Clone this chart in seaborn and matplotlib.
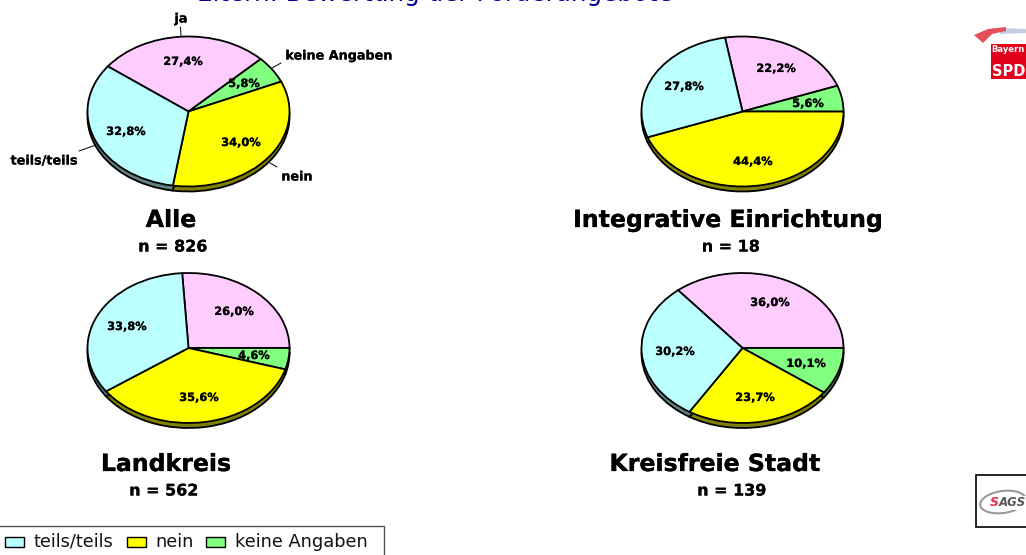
import matplotlib
matplotlib.use('Agg')
import matplotlib.pyplot as plt
import matplotlib.patheffects as pe
from matplotlib.patches import Rectangle, Polygon, Ellipse
import seaborn as sns

# Data
categories = ['ja', 'keine Angaben', 'nein', 'teils/teils']
alle = [27.4, 5.8, 34.0, 32.8]
integrativ = [22.2, 5.6, 44.4, 27.8]
landkreis = [26.0, 4.6, 35.6, 33.8]
kreisfrei = [36.0, 10.1, 23.7, 30.2]
group_names = ['Alle', 'Integrative Einrichtung', 'Landkreis', 'Kreisfreie Stadt']
group_n = [826, 18, 562, 139]
legend_items = ['teils/teils', 'nein', 'keine Angaben']

W, H = 1026, 555
sns.set_theme(style='white')
plt.rcParams['font.family'] = ['DejaVu Sans']

top_colors = sns.color_palette(['#FFCCFF', '#80FF80', '#FFFF00', '#BBFFFF'])
side_colors = sns.color_palette(['#806680', '#408040', '#808000', '#608080'])
legend_colors = {c: top_colors[i] for i, c in enumerate(categories)}

fig = plt.figure(figsize=(W / 100, H / 100), dpi=100, facecolor='white')

# one entry per pie: centre x, centre y, start angle
pie_setup = [(188.5, 111.5, 143), (742.5, 111.5, 100), (188.5, 348, 93.6), (742.5, 348, 129.6)]
pie_values = [alle, integrativ, landkreis, kreisfrei]
RX, RY, DEPTH = 101, 75, 5

for values, (cx, cy, start) in zip(pie_values, pie_setup):
    # axes is stretched to the ellipse, so the pie is drawn squashed
    ax = fig.add_axes([(cx - RX) / W, 1 - (cy + RY + DEPTH) / H, 2 * RX / W, (2 * RY + DEPTH) / H])
    lw = {'edgecolor': 'black', 'linewidth': 1.3}
    ax.pie(values, colors=side_colors, startangle=start, counterclock=False,
           center=(0, -DEPTH / RY), wedgeprops=lw)
    ax.pie(values, colors=top_colors, startangle=start, counterclock=False,
           center=(0, 0), wedgeprops=lw)
    ax.set_aspect('auto')
    ax.set_xlim(-1, 1)
    ax.set_ylim(-1 - DEPTH / RY, 1)
    for p in ax.patches:
        p.set_clip_on(False)

# overlay in image pixels for all the text
ov = fig.add_axes([0, 0, 1, 1], zorder=5)
ov.set_xlim(0, W)
ov.set_ylim(H, 0)
ov.axis('off')
ov.patch.set_alpha(0)


def label(x, y, s, size=8, color='black', stroke=0.12):
    t = ov.text(x, y, s, fontsize=size, fontweight='bold', color=color, ha='center', va='center')
    if stroke:
        # source is a blurry screenshot, text reads heavier there
        t.set_path_effects([pe.withStroke(linewidth=stroke, foreground=color)])


def pct(v):
    return f'{v:.1f}%'.replace('.', ',')


pct_pos = [
    [(183, 62), (244, 84), (241, 143), (126, 132)],
    [(776, 69), (808, 104), (753, 162), (684, 87)],
    [(234, 312), (254, 356), (199, 398), (127, 327)],
    [(770, 303), (806, 364), (755, 398), (675, 352)],
]
for values, positions in zip(pie_values, pct_pos):
    for v, (x, y) in zip(values, positions):
        label(x, y, pct(v), size=8.2)

title_pos = [(171, 220), (728, 220), (166, 464), (715, 464)]
n_pos = [(173, 247), (731, 247), (164, 491), (732, 491)]
for name, n, tp, np_ in zip(group_names, group_n, title_pos, n_pos):
    label(tp[0], tp[1], name, size=17, stroke=0.2)
    label(np_[0], np_[1], f'n = {n}', size=11.5)

# category labels and leader lines of the first pie
label(181, 19, 'ja', size=9.2)
label(339, 56, 'keine Angaben', size=9.2)
label(297, 177, 'nein', size=9.2)
label(44, 161, 'teils/teils', size=9.2)
for xs, ys in [((181, 180.5), (36, 27)), ((272, 281), (68, 63)),
               ((270, 277), (163, 167)), ((96, 79), (145, 151))]:
    ov.plot(xs, ys, color='black', lw=0.7)

# heading is cut off by the top edge of the image
ov.text(197, 0.5, 'Eltern: Bewertung der Förderangebote', fontsize=17.7, color='#000099',
        ha='left', va='baseline', clip_on=True)

# legend, runs off the bottom of the image
ov.plot([0, 384, 384], [526, 526, 556], color='#555555', lw=1, clip_on=True)
for name, xb, xt in zip(legend_items, (5, 127, 206), (33, 155, 235)):
    ov.add_patch(Rectangle((xb, 537), 19, 10, facecolor=legend_colors[name], edgecolor='black', lw=1))
    ov.text(xt, 542, name, fontsize=12.8, color='#111111', ha='left', va='center')

# SPD logo
ov.add_patch(Polygon([(1000, 28), (1026, 29), (1026, 33), (1000, 34)], facecolor='#C3CEDF', edgecolor='none'))
ov.add_patch(Polygon([(974, 35), (988, 29), (1006, 27), (1006, 31), (992, 34), (983, 43)],
                     facecolor='#E4505A', edgecolor='none'))
ov.add_patch(Rectangle((991, 44), 35, 35, facecolor='#E2001A', edgecolor='none'))
label(1008, 50, 'Bayern', size=6, color='white', stroke=0)
label(1009, 72, 'SPD', size=10.5, color='white', stroke=0)

# SAGS logo
ov.add_patch(Rectangle((976, 475), 60, 52, facecolor='white', edgecolor='black', lw=1.2))
ov.add_patch(Ellipse((1003, 502), 46, 22, angle=-8, facecolor='none', edgecolor='#999999', lw=1.5))
ov.add_patch(Rectangle((990, 496), 36, 14, facecolor='white', edgecolor='none'))
ov.text(989.5, 503, 'S', fontsize=9, fontstyle='italic', fontweight='bold', color='#E0304A', ha='left', va='center')
ov.text(998.5, 503, 'AGS', fontsize=8.5, fontstyle='italic', fontweight='bold', color='#555555', ha='left', va='center')

fig.savefig('out.png', dpi=100)
